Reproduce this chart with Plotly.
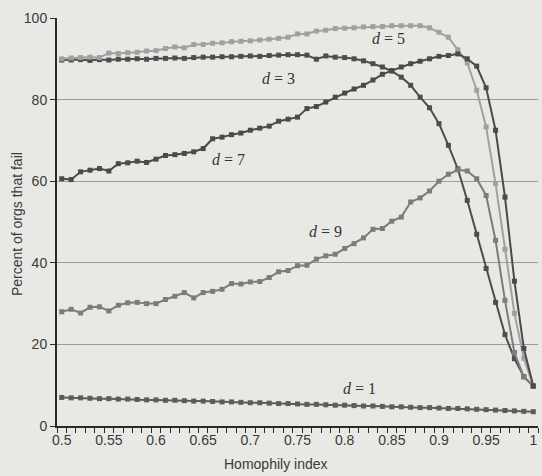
import plotly.graph_objects as go

homophily = [round(0.50 + 0.01 * i, 2) for i in range(51)]

d1 = [7.0, 6.9, 6.9, 6.8, 6.7, 6.7, 6.6, 6.6, 6.5, 6.4,
      6.4, 6.3, 6.3, 6.2, 6.1, 6.1, 6.0, 5.9, 5.9, 5.8,
      5.7, 5.7, 5.6, 5.5, 5.5, 5.4, 5.3, 5.3, 5.2, 5.1,
      5.1, 5.0, 4.9, 4.9, 4.8, 4.7, 4.7, 4.6, 4.5, 4.5,
      4.4, 4.3, 4.3, 4.2, 4.1, 4.0, 3.9, 3.8, 3.7, 3.6, 3.5]

d3 = [89.7, 89.7, 89.8, 89.6, 89.8, 89.7, 89.9, 89.9, 90.0, 89.9,
      90.1, 90.1, 90.2, 90.1, 90.3, 90.4, 90.4, 90.5, 90.5, 90.6,
      90.7, 90.6, 90.8, 90.9, 91.0, 91.0, 90.9, 89.9, 90.7, 90.4,
      90.3, 90.0, 89.5, 88.8, 88.0, 87.0, 85.5, 83.5, 80.6, 78.0,
      74.1, 68.8, 63.0, 55.3, 47.0, 38.6, 30.3, 22.4, 16.5, 12.1, 9.8]

d5 = [90.0, 90.2, 90.3, 90.4, 90.3, 91.4, 91.3, 91.5, 91.6, 91.9,
      92.0, 92.5, 92.9, 92.7, 93.5, 93.5, 93.8, 93.9, 94.2, 94.3,
      94.4, 94.6, 94.8, 95.0, 95.3, 96.1, 96.1, 96.8, 97.0, 97.4,
      97.5, 97.6, 97.8, 97.9, 97.9, 98.1, 98.1, 98.1, 98.1, 97.6,
      96.5, 95.3, 92.2, 89.0, 82.3, 73.3, 59.4, 43.3, 27.6, 16.6, 9.8]

d7 = [60.6, 60.4, 62.3, 62.7, 63.1, 62.5, 64.3, 64.5, 64.9, 64.6,
      65.4, 66.3, 66.5, 66.8, 67.2, 68.0, 70.4, 70.8, 71.4, 71.8,
      72.5, 73.0, 73.5, 74.7, 75.2, 75.7, 77.8, 78.3, 79.4, 80.6,
      81.6, 82.6, 83.5, 84.8, 86.2, 87.1, 88.0, 88.8, 89.4, 90.0,
      90.6, 90.8, 91.2, 90.0, 88.2, 82.9, 72.5, 56.1, 35.5, 19.0, 9.8]

d9 = [28.0, 28.6, 27.7, 29.1, 29.2, 28.2, 29.6, 30.2, 30.3, 30.0,
      30.0, 31.0, 31.8, 32.7, 31.4, 32.7, 33.0, 33.5, 34.9, 34.8,
      35.3, 35.4, 36.4, 37.8, 38.1, 39.3, 39.4, 40.9, 41.7, 42.1,
      43.5, 44.7, 46.1, 48.2, 48.4, 50.2, 51.2, 54.9, 55.9, 57.6,
      60.0, 61.7, 62.8, 62.5, 60.6, 56.5, 45.5, 30.8, 18.0, 12.0, 9.8]

series = [("d = 1", d1, "#5c5c5c"),
          ("d = 3", d3, "#4d4d4d"),
          ("d = 9", d9, "#7c7c7c"),
          ("d = 5", d5, "#a0a0a0"),
          ("d = 7", d7, "#4a4a4a")]

labels = [("<i>d</i> = 5", 0.846, 95.0),
          ("<i>d</i> = 3", 0.730, 85.2),
          ("<i>d</i> = 7", 0.677, 65.2),
          ("<i>d</i> = 9", 0.780, 47.6),
          ("<i>d</i> = 1", 0.816, 9.3)]

xticks = [0.5, 0.55, 0.6, 0.65, 0.7, 0.75, 0.8, 0.85, 0.9, 0.95, 1.0]
xticktext = ["0.5", "0.55", "0.6", "0.65", "0.7", "0.75", "0.8", "0.85", "0.9", "0.95", "1"]

bg = "#e8e8e5"
fig = go.Figure()
for name, vals, col in series:
    fig.add_trace(go.Scatter(
        x=homophily, y=vals, mode="lines+markers", name=name,
        line=dict(color=col, width=2),
        marker=dict(symbol="square", size=5, color=col),
        showlegend=False, hoverinfo="skip"))

for txt, x, y in labels:
    fig.add_annotation(x=x, y=y, text=txt, showarrow=False,
                       font=dict(family="Liberation Serif", size=16, color="#333333"))

fig.add_annotation(xref="paper", yref="paper", x=-0.083, y=0.495, text="Percent of orgs that fail",
                   textangle=-90, showarrow=False, xanchor="center", yanchor="middle",
                   font=dict(family="Liberation Sans", size=14, color="#3a3a3a"))
fig.add_annotation(xref="x", yref="paper", x=0.727, y=-0.094, text="Homophily index",
                   showarrow=False, xanchor="center", yanchor="middle",
                   font=dict(family="Liberation Sans", size=14, color="#3a3a3a"))

fig.update_layout(
    width=542, height=476,
    margin=dict(l=57, r=4, t=18, b=50),
    paper_bgcolor=bg, plot_bgcolor=bg,
    font=dict(family="Liberation Sans", size=14, color="#3a3a3a"),
    xaxis=dict(range=[0.495, 1.005], tickvals=xticks, ticktext=xticktext,
               ticks="", showgrid=False, zeroline=False, automargin=False,
               showline=True, linecolor="#2a2a2a", linewidth=2,
               minor=dict(tick0=0.495, dtick=0.01, ticks="outside", ticklen=5,
                          tickcolor="#2a2a2a", tickwidth=1, showgrid=False)),
    yaxis=dict(range=[0, 100], tickvals=[0, 20, 40, 60, 80, 100],
               ticks="outside", ticklen=5, tickcolor="#2a2a2a", automargin=False,
               showgrid=True, gridcolor="#9c9c9c", gridwidth=1, zeroline=False,
               showline=True, linecolor="#2a2a2a", linewidth=2),
)

fig.write_html("out.html", config={"displayModeBar": False},
               post_script="document.body.style.margin='0';document.body.style.overflow='hidden';")
